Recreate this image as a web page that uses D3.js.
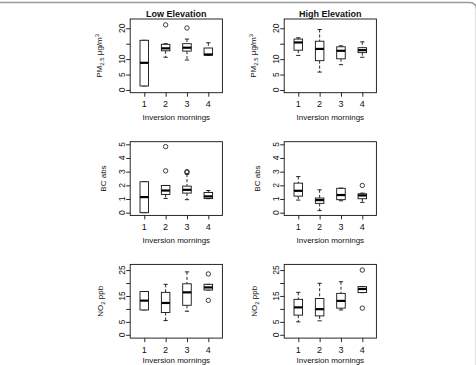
<!DOCTYPE html>
<html><head><meta charset="utf-8">
<script src="https://cdn.jsdelivr.net/npm/d3@7"></script>
<style>
body{margin:0;background:#fff}
svg{display:block}
text{font-family:"Liberation Sans",Arial,Helvetica,sans-serif;fill:#111}
</style>
</head><body>
<svg id="c" width="476" height="365"></svg>
<script>
// ---------- data ----------
const categories = ["1","2","3","4"];
const panelTitles = ["Low Elevation","High Elevation"];
const xAxisTitle = "Inversion mornings";

// each entry: [lower whisker, Q1, median, Q3, upper whisker]
const lowPM  = [[1.3,1.3,8.8,16.1,16.1],[10.6,12.7,13.5,14.8,15.0],[9.7,12.6,13.7,15.0,16.5],[11.3,11.3,11.5,13.6,15.3]];
const lowPMOut  = [[],[21.1],[20.1],[]];
const highPM = [[11.2,12.9,15.4,16.5,16.9],[5.8,9.5,13.3,15.8,19.6],[8.2,10.1,12.7,14.0,14.3],[10.6,12.1,12.9,13.7,15.6]];
const highPMOut = [[],[],[],[]];

const lowBC  = [[0.0,0.0,1.14,2.26,2.26],[1.04,1.33,1.62,1.99,1.99],[0.95,1.43,1.67,1.94,2.82],[1.02,1.04,1.19,1.48,1.62]];
const lowBCOut  = [[],[4.83,3.06],[3.0,2.95],[]];
const highBC = [[0.92,1.21,1.6,2.16,2.64],[0.15,0.68,0.92,1.07,1.67],[0.87,0.95,1.29,1.78,1.80],[0.75,1.02,1.26,1.38,1.43]];
const highBCOut = [[],[],[],[1.99]];

const lowNO2  = [[9.6,9.6,13.2,16.7,16.7],[5.5,8.6,12.3,16.4,19.5],[9.1,11.4,16.4,19.7,24.3],[17.3,17.3,18.3,19.5,19.5]];
const lowNO2Out  = [[],[],[],[23.5,13.3]];
const highNO2 = [[5.0,7.6,10.6,13.7,16.4],[5.4,7.3,9.9,14.0,19.9],[9.6,10.3,13.1,16.0,20.5],[16.3,16.3,17.7,18.6,18.6]];
const highNO2Out = [[],[],[],[25.0,10.3]];

const pmTicks  = [0,5,10,15,20];   const pmTickLabels  = ["0","5","10","","20"];
const bcTicks  = [0,1,2,3,4,5];    const bcTickLabels  = ["0","1","2","3","4","5"];
const no2Ticks = [0,5,10,15,20,25]; const no2TickLabels = ["0","5","","15","","25"];

const pmDomain  = [-0.88, 23.0];
const bcDomain  = [-0.2, 5.19];
const no2Domain = [-1.27, 27.19];

// ---------- layout ----------
const colLeft = [130.2, 284.2], panelW = 92.2;
const rowTop = [19, 141.7, 264.4], panelH = 73.7;

const rows = [
  {stats:[lowPM,highPM], out:[lowPMOut,highPMOut], ticks:pmTicks, labels:pmTickLabels, domain:pmDomain, ylab:"pm", labOff:28, xtOff:27.7},
  {stats:[lowBC,highBC], out:[lowBCOut,highBCOut], ticks:bcTicks, labels:bcTickLabels, domain:bcDomain, ylab:"bc", labOff:24, xtOff:27.7},
  {stats:[lowNO2,highNO2], out:[lowNO2Out,highNO2Out], ticks:no2Ticks, labels:no2TickLabels, domain:no2Domain, ylab:"no2", labOff:27, xtOff:24.8}
];

const svg = d3.select("#c");

// frame border (top edge with rounded right corner)
svg.append("path")
  .attr("d","M-5,2.5 H470 A6.5,6.5 0 0 1 476.5,9 V370")
  .attr("fill","none").attr("stroke","#9a9a9a").attr("stroke-width",1.6);

const ink = "#111";

rows.forEach((row, ri) => {
  [0,1].forEach(ci => {
    const L = colLeft[ci], T = rowTop[ri];
    const x = d3.scaleLinear().domain([0.34, 4.66]).range([L, L+panelW]);
    const y = d3.scaleLinear().domain(row.domain).range([T+panelH, T]);
    const g = svg.append("g");
    const bw = (x(1.4)-x(1)); // box width (boxwex 0.8)
    const sw = bw/2;          // staple width

    // y-axis ticks
    const yAxis = d3.axisLeft(y).tickValues(row.ticks).tickSize(4).tickPadding(2).tickFormat("");
    const ya = g.append("g").attr("transform",`translate(${L},0)`).call(yAxis);
    ya.select(".domain").remove();
    ya.selectAll("line").attr("stroke",ink).attr("stroke-width",0.9);
    row.ticks.forEach((t,i) => {
      if (!row.labels[i]) return;
      g.append("text").attr("transform",`translate(${L-5.5},${y(t)}) rotate(-90)`)
        .attr("text-anchor","middle").attr("font-size",8.5).text(row.labels[i]);
    });

    // x-axis ticks
    const xAxis = d3.axisBottom(x).tickValues([1,2,3,4]).tickSize(4).tickFormat("");
    const xa = g.append("g").attr("transform",`translate(0,${T+panelH})`).call(xAxis);
    xa.select(".domain").remove();
    xa.selectAll("line").attr("stroke",ink).attr("stroke-width",0.9);
    categories.forEach((c,i) => {
      g.append("text").attr("x",x(i+1)).attr("y",T+panelH+14.5)
        .attr("text-anchor","middle").attr("font-size",9).text(c);
    });
    g.append("text").attr("x",L+panelW/2).attr("y",T+panelH+row.xtOff)
      .attr("text-anchor","middle").attr("font-size",8).text(xAxisTitle);

    // y-axis title
    const yt = g.append("text").attr("transform",`translate(${L-row.labOff},${T+panelH/2}) rotate(-90)`)
      .attr("text-anchor","middle").attr("font-size",8);
    if (row.ylab==="pm") {
      yt.append("tspan").text("PM");
      yt.append("tspan").attr("font-size",6).attr("dy",2).text("2.5");
      yt.append("tspan").attr("dy",-2).text(" \u03BCg/m");
      yt.append("tspan").attr("font-size",6).attr("dy",-3).text("3");
    } else if (row.ylab==="bc") {
      yt.text("BC abs");
    } else {
      yt.append("tspan").text("NO");
      yt.append("tspan").attr("font-size",6).attr("dy",2).text("2");
      yt.append("tspan").attr("dy",-2).text(" ppb");
    }

    // title
    if (ri===0) {
      g.append("text").attr("x",L+panelW/2).attr("y",17)
        .attr("text-anchor","middle").attr("font-size",9).attr("font-weight","bold").text(panelTitles[ci]);
    }

    // boxes
    const stats = row.stats[ci], outs = row.out[ci];
    stats.forEach((s,i) => {
      const cx = x(i+1);
      const [lo,q1,md,q3,hi] = s;
      // whiskers
      g.append("line").attr("x1",cx).attr("x2",cx).attr("y1",y(hi)).attr("y2",y(q3))
        .attr("stroke",ink).attr("stroke-width",0.9).attr("stroke-dasharray","3,2");
      g.append("line").attr("x1",cx).attr("x2",cx).attr("y1",y(q1)).attr("y2",y(lo))
        .attr("stroke",ink).attr("stroke-width",0.9).attr("stroke-dasharray","3,2");
      // staples
      [lo,hi].forEach(v => g.append("line").attr("x1",cx-sw/2).attr("x2",cx+sw/2)
        .attr("y1",y(v)).attr("y2",y(v)).attr("stroke",ink).attr("stroke-width",0.9));
      // box
      g.append("rect").attr("x",cx-bw/2).attr("y",y(q3)).attr("width",bw).attr("height",y(q1)-y(q3))
        .attr("fill","#fff").attr("stroke",ink).attr("stroke-width",0.9);
      // median
      g.append("line").attr("x1",cx-bw/2).attr("x2",cx+bw/2).attr("y1",y(md)).attr("y2",y(md))
        .attr("stroke","#000").attr("stroke-width",2.2);
      // outliers
      outs[i].forEach(v => g.append("circle").attr("cx",cx).attr("cy",y(v)).attr("r",2.2)
        .attr("fill","none").attr("stroke",ink).attr("stroke-width",0.8));
    });

    // plot frame
    g.append("rect").attr("x",L).attr("y",T).attr("width",panelW).attr("height",panelH)
      .attr("fill","none").attr("stroke",ink).attr("stroke-width",0.9);
  });
});
</script>
</body></html>
